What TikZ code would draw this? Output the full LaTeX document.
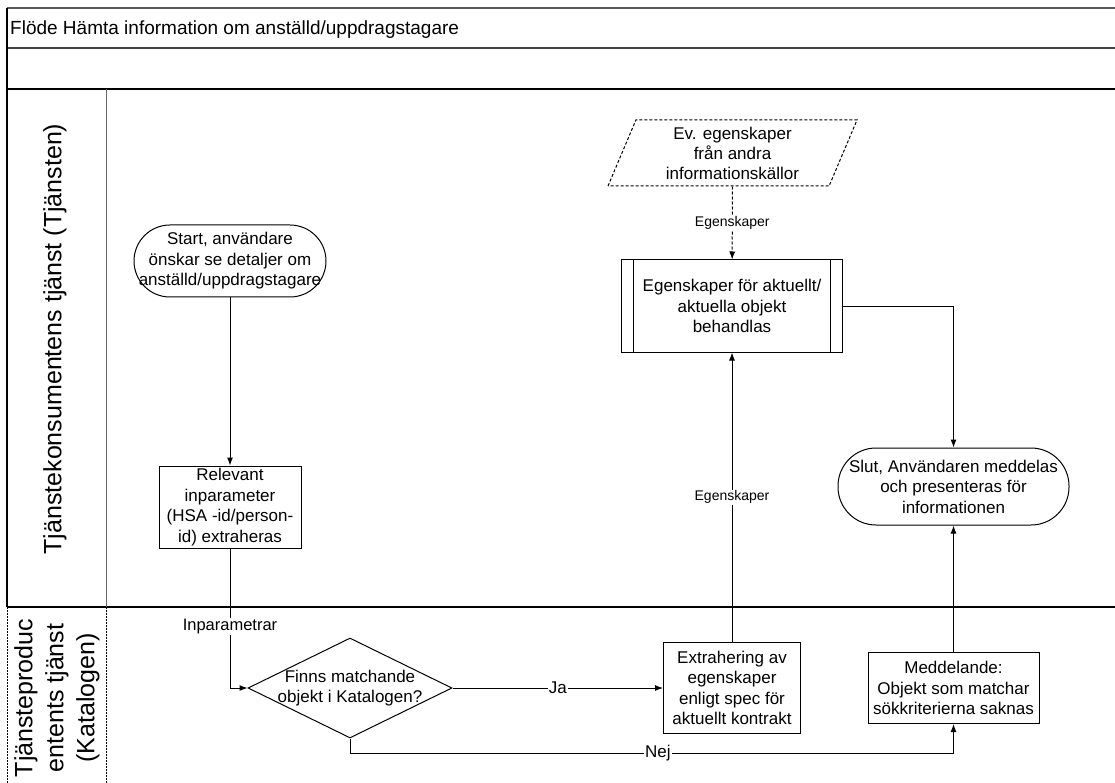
\documentclass[tikz,border=0pt]{standalone}
\usepackage{fontspec}
\setmainfont{Liberation Sans}
\usepackage{tikz}
\usetikzlibrary{shapes,arrows.meta,positioning}
\tikzstyle{block} = [rectangle, draw, line width=1pt, align=center, inner sep=0pt,
    font=\fontsize{17}{20.5}\selectfont]
\tikzstyle{term} = [rectangle, draw, line width=1pt, align=center, inner sep=0pt,
    font=\fontsize{17}{20.5}\selectfont]
\tikzstyle{decision} = [diamond, draw, line width=1pt, aspect=2, inner sep=-6pt, align=center,
    minimum width=204pt, minimum height=100pt, font=\fontsize{17}{19.5}\selectfont]
\tikzstyle{data} = [trapezium, trapezium left angle=62, trapezium right angle=118,
    trapezium stretches body, draw, dash pattern=on 3pt off 2pt, line width=1pt, align=center,
    inner sep=0pt, minimum width=249pt, minimum height=66pt, font=\fontsize{17}{20}\selectfont]
\tikzstyle{line} = [draw, line width=1pt, -{Latex[length=8pt,width=6pt]}]
\tikzstyle{lbl} = [fill=white, inner sep=1pt, font=\fontsize{17}{20}\selectfont]
\tikzstyle{smalllbl} = [fill=white, inner sep=1pt, font=\fontsize{14}{16}\selectfont]
\tikzstyle{lane} = [draw, line width=1.5pt]
\tikzstyle{lanetitle} = [rotate=90, align=center, font=\fontsize{25}{31}\selectfont]

\begin{document}
\begin{tikzpicture}[x=1pt, y=-1pt]
      \useasboundingbox (0,0) rectangle (1115,783);
      % Swimlanes
      \draw[lane, line width=2.5pt, gray!70!black] (7,8) -- (1115,8);
      \draw[lane, line width=2pt, black!75] (7,48) -- (1115,48);
      \draw[lane] (7,89) -- (1115,89);
      \draw[lane] (7,607) -- (1115,607);
      \draw[lane] (7,8) -- (7,607);
      \draw[line width=1pt, gray!80!black] (106,89) -- (106,607);
      \draw[line width=1pt, dash pattern=on 2pt off 1pt] (7,607) -- (7,783);
      \draw[line width=1pt, dash pattern=on 2pt off 1pt] (106,607) -- (106,783);
      \node[anchor=base west, inner sep=0pt, font=\fontsize{19}{23}\selectfont] (title) at (10,35)
          {Flöde Hämta information om anställd/uppdragstagare};
      \node[lanetitle] (consumer) at (55,339) {Tjänstekonsumentens tjänst (Tjänsten)};
      \node[lanetitle] (producer) at (57,698) {Tjänsteproduc\\ entents tjänst\\ (Katalogen)};
      % Consumer
      \node[term, rounded corners=36pt, minimum width=192pt, minimum height=72pt] (start) at (230,261)
          {Start, användare\\ önskar se detaljer om\\ anställd/uppdragstagare};
      \node[block, minimum width=142pt, minimum height=82pt] (extract) at (230,507)
          {Relevant\\ inparameter\\ (HSA -id/person-\\ id) extraheras};
      \node[data] (sources) at (732.5,153) {Ev. egenskaper\\ från andra\\ informationskällor};
      \node[block, minimum width=221pt, minimum height=92pt] (handle) at (732,306)
          {Egenskaper för aktuellt/\\ aktuella objekt\\ behandlas};
      \draw[line width=1pt] ([xshift=12.6pt]handle.north west) -- ([xshift=12.6pt]handle.south west);
      \draw[line width=1pt] ([xshift=-12.6pt]handle.north east) -- ([xshift=-12.6pt]handle.south east);
      \node[term, rounded corners=38pt, minimum width=231pt, minimum height=77pt] (stop) at (953.5,486.5)
          {Slut, Användaren meddelas\\ och presenteras för\\ informationen};
      % Producer
      \node[decision] (match) at (350,688) {Finns matchande\\ objekt i Katalogen?};
      \node[block, minimum width=137pt, minimum height=91pt] (props) at (732,688)
          {Extrahering av\\ egenskaper\\ enligt spec för\\ aktuellt kontrakt};
      \node[block, minimum width=171pt, minimum height=71pt] (missing) at (953.5,688)
          {Meddelande:\\ Objekt som matchar\\ sökkriterierna saknas};
      % Draw edges
      \path [line] (start) -- (extract);
      \path [line] (extract) |- node[lbl, pos=0.28, font=\fontsize{16.5}{19}\selectfont] {Inparametrar} (match);
      \path [line] (match) -- node[lbl] {Ja} (props);
      \path [line] (match.south) -- ++(0,15) -| node[lbl, pos=0.255] {Nej} (missing.south);
      \path [line] (props) -- node[smalllbl] {Egenskaper} (handle);
      \path [line, dash pattern=on 3pt off 2pt] (sources) -- node[smalllbl] {Egenskaper} (handle);
      \path [line] (handle.east) -| (stop.north);
      \path [line] (missing) -- (stop);
  \end{tikzpicture}
\end{document}
